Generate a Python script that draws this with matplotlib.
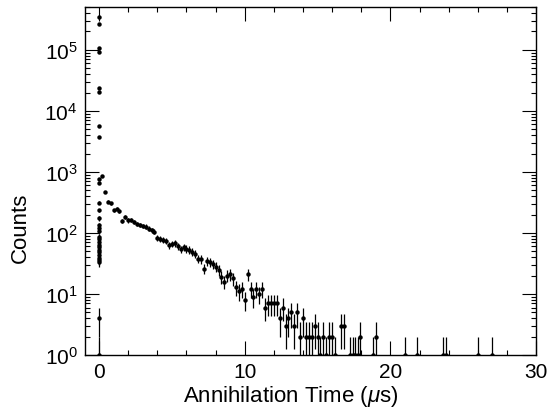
import numpy as np
import matplotlib
matplotlib.use('Agg')
import matplotlib.pyplot as plt
import matplotlib.ticker as ticker

plt.rcParams.update({
    'font.family': 'Liberation Sans',
    'mathtext.fontset': 'custom',
    'mathtext.rm': 'Liberation Sans',
    'mathtext.it': 'Liberation Sans:italic',
    'mathtext.bf': 'Liberation Sans:bold',
})

# prompt peak bins at t ~ 0
peak_t = [0.0] * 29
peak_counts = [350000, 270000, 107000, 92000, 23700, 20400, 5600, 3800,
               780, 665, 312, 234, 173, 133, 119, 107, 87, 79, 71, 64,
               58, 52, 48, 43, 39.5, 36, 33, 4, 1]

# delayed annihilation spectrum (0.2 us bins)
t = [0.2, 0.4, 0.6, 0.8, 1.0, 1.2, 1.4, 1.6, 1.8, 2.0, 2.2, 2.4, 2.6, 2.8,
     3.0, 3.2, 3.4, 3.6, 3.8, 4.0, 4.2, 4.4, 4.6, 4.8, 5.0, 5.2, 5.4, 5.6,
     5.8, 6.0, 6.2, 6.4, 6.6, 6.8, 7.0, 7.2, 7.4, 7.6, 7.8, 8.0, 8.2, 8.4,
     8.6, 8.8, 9.0, 9.2, 9.4, 9.6, 9.8, 10.0, 10.2, 10.4, 10.6, 10.8, 11.0,
     11.2, 11.4, 11.6, 11.8, 12.0, 12.2, 12.4, 12.6, 12.8, 13.0, 13.2, 13.4,
     13.6, 13.8, 14.0, 14.2, 14.4, 14.6, 14.8, 15.0, 15.2, 15.4, 15.6, 15.8,
     16.0, 16.2, 16.6, 16.8, 17.2, 17.4, 17.6, 17.8, 17.9, 18.8, 19.0,
     21.0, 21.8, 23.6, 23.8, 26.0, 27.0]
counts = [850, 467, 325, 305, 234, 250, 226, 156, 185, 160, 164, 150, 142,
          135, 130, 127, 118, 110, 105, 82, 80, 77, 74, 63, 66, 68, 60, 54,
          58, 55, 53, 49, 46, 38, 37, 26, 35, 33, 31, 28, 25, 19, 16, 20, 21,
          18, 13, 11, 12, 8, 21, 12, 9, 12, 10, 12, 6, 7, 7, 7, 7, 4, 6, 3,
          4, 5, 3, 5, 2, 4, 2, 2, 2, 3, 2, 1, 2, 1, 2, 2, 1, 3, 3, 1, 1, 1,
          1, 2, 1, 2, 1, 1, 1, 1, 1, 1]

x = np.array(peak_t + t)
y = np.array(peak_counts + counts, dtype=float)
yerr = np.sqrt(y)  # Poisson errors

fig = plt.figure(figsize=(5.47, 4.10), dpi=100)
ax = fig.add_axes([0.1545, 0.1317, 0.8255, 0.8483])

ax.errorbar(x, y, yerr=yerr, fmt='o', color='black', ms=3.2,
            elinewidth=0.9, capsize=0, markeredgewidth=0)

ax.set_yscale('log', nonpositive='clip')
ax.set_xlim(-1, 30)
ax.set_ylim(1, 5e5)
ax.xaxis.set_major_locator(ticker.MultipleLocator(10))
ax.xaxis.set_minor_locator(ticker.MultipleLocator(2))
ax.yaxis.set_major_locator(ticker.LogLocator(base=10, numticks=10))
ax.yaxis.set_minor_locator(ticker.LogLocator(base=10, subs=np.arange(2, 10),
                                             numticks=20))
ax.yaxis.set_minor_formatter(ticker.NullFormatter())

ax.tick_params(which='both', direction='in', top=True, right=True,
               width=0.8, labelsize=15, pad=5)
ax.tick_params(which='major', length=10)
ax.tick_params(which='minor', length=3.5)
for s in ax.spines.values():
    s.set_linewidth(1.0)

ax.set_xlabel(r'Annihilation Time ($\mu$s)', fontsize=16)
ax.xaxis.set_label_coords(0.457, -0.08)
ax.set_ylabel('Counts', fontsize=16)
ax.yaxis.set_label_coords(-0.118, 0.368)

fig.savefig('out.png', dpi=100)
